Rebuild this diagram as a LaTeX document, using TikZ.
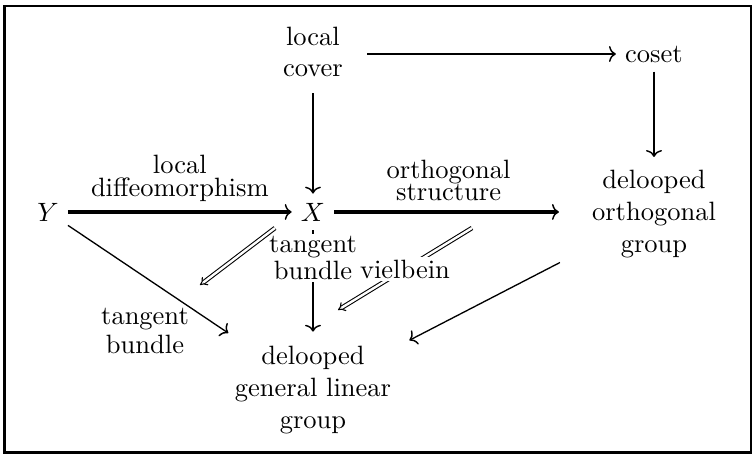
\documentclass[tikz,border=0pt]{standalone}
\usetikzlibrary{arrows.meta}
\begin{document}
\begin{tikzpicture}[x=0.3774pt,y=-0.3774pt,
  >={Computer Modern Rightarrow[length=2.6pt,width=6pt,line width=0.55pt]},
  lab/.style={align=center,font=\fontsize{10}{8.5}\selectfont},
  labwide/.style={align=center,font=\fontsize{10}{11.3}\selectfont},
  cut/.style={fill=white,inner sep=1pt},
  thickar/.style={->,line width=1.4pt},
  midar/.style={->,line width=0.75pt},
  thinar/.style={->,line width=0.5pt},
  twocell/.style={double,double distance=0.9pt,line width=0.4pt,-Implies},
]
\useasboundingbox (0,0) rectangle (756,454);
\draw[line width=0.9pt] (4.5,6) rectangle (751,452.5);

\node[align=center] (cover) at (313,52) {local\\cover};
\node[anchor=base] (coset) at (654,62) {coset};
\node[align=center] (orth) at (654,214) {delooped\\orthogonal\\group};
\node[anchor=base] (Y) at (48,221) {$Y$};
\node[anchor=base] (X) at (313,221) {$X$};
\node[align=center] (GL) at (313,390) {delooped\\general linear\\group};

\draw[midar,shorten <=2.6pt] (cover.south) -- (cover.south |- X.north);
\draw[midar,shorten <=5.7pt] (cover.east |- coset.west) -- (coset.west);
\draw[midar,shorten >=1.5pt] (coset.south) -- (orth.north);
\draw[thickar] (Y.east) -- (X.west)
  node[lab,midway,above] (l1) {local\\diffeomorphism};
\draw[thickar,shorten >=9pt] (X.east) -- (X.east -| orth.west)
  node[lab,pos=0.46,above] (l2) {orthogonal\\structure};
\draw[midar,shorten >=2pt] (X.south) -- (X.south |- GL.north);
\node[lab,cut] (l3) at (313,258) {tangent\\bundle};
\draw[thinar,shorten >=2.6pt] (Y) -- (GL);
\node[labwide] (l4) at (145,331) {tangent\\bundle};
\draw[thinar,shorten <=9.7pt,shorten >=3.8pt] (orth) -- (GL);

\coordinate (c1s) at (275,228);
\coordinate (c1e) at (200,285);
\draw[twocell] (c1s) -- (c1e);
\coordinate (c2s) at (472,228);
\coordinate (c2e) at (338,310);
\draw[twocell] (c2s) -- (c2e) node[lab,cut,midway] (l5) {vielbein};
\end{tikzpicture}
\end{document}
